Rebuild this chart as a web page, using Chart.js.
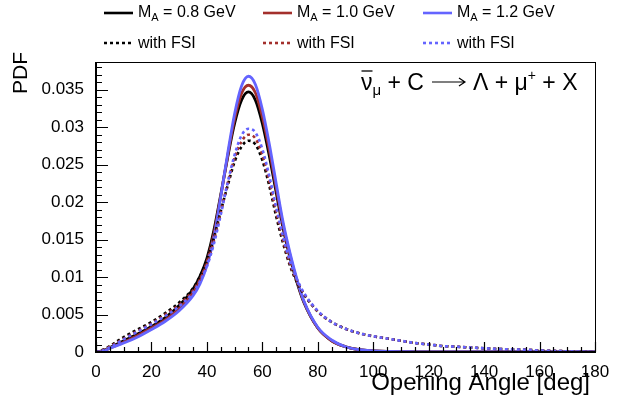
<!DOCTYPE html>
<html>
<head>
<meta charset="utf-8">
<script src="https://cdn.jsdelivr.net/npm/chart.js@4.4.1/dist/chart.umd.min.js"></script>
<style>
  html, body { margin: 0; padding: 0; background: #fff; overflow: hidden; }
  canvas { display: block; }
</style>
</head>
<body>
<canvas id="pdfChart" width="634" height="410"></canvas>
<script>
// opening angle (deg)
const angles = [0, 2.5, 5, 10, 15, 20, 25, 30, 35, 37.5, 40, 42.5, 45, 47.5, 50, 52.5, 55, 57.5, 60, 62.5,
  65, 67.5, 70, 72.5, 75, 80, 85, 90, 95, 100, 105, 110, 115, 120, 125, 130, 135, 140, 145, 150,
  155, 160, 165, 170, 175, 180];

const massLabels = ["M_A = 0.8 GeV", "M_A = 1.0 GeV", "M_A = 1.2 GeV"];
const fsiLabel = "with FSI";

// no FSI
const ma08 = [0, 0.0002, 0.0006, 0.0015, 0.0024, 0.0034, 0.0046, 0.0062, 0.0084, 0.0101, 0.0125, 0.0162, 0.0210, 0.0260, 0.0305, 0.0336,
  0.0347, 0.0336, 0.0305, 0.0262, 0.0213, 0.0165, 0.0126, 0.0093, 0.0066, 0.0032, 0.0015, 0.0007, 0.0003, 0.00015, 0.00007, 0.00004,
  0.00003, 0.00002, 0.00001, 0, 0, 0, 0, 0, 0, 0, 0, 0, 0, 0];
const ma10 = [0, 0.00015, 0.0005, 0.0013, 0.0022, 0.0032, 0.0043, 0.0058, 0.0079, 0.0096, 0.0120, 0.0157, 0.0208, 0.0262, 0.0311, 0.0345,
  0.0356, 0.0346, 0.0314, 0.0270, 0.0219, 0.0169, 0.0129, 0.0095, 0.0067, 0.0032, 0.0015, 0.0007, 0.0003, 0.00015, 0.00007, 0.00004,
  0.00003, 0.00002, 0.00001, 0, 0, 0, 0, 0, 0, 0, 0, 0, 0, 0];
const ma12 = [0, 0.0001, 0.0005, 0.0012, 0.0020, 0.0030, 0.0041, 0.0055, 0.0075, 0.0091, 0.0115, 0.0152, 0.0207, 0.0265, 0.0318, 0.0355,
  0.0368, 0.0357, 0.0324, 0.0278, 0.0225, 0.0173, 0.0132, 0.0097, 0.0068, 0.0033, 0.0016, 0.0007, 0.0003, 0.00015, 0.00008, 0.00004,
  0.00003, 0.00002, 0.00001, 0, 0, 0, 0, 0, 0, 0, 0, 0, 0, 0];

// with FSI
const ma08fsi = [0, 0.0003, 0.0008, 0.0020, 0.0030, 0.0040, 0.0052, 0.0066, 0.0085, 0.0101, 0.0122, 0.0152, 0.0188, 0.0222, 0.0254, 0.0274,
  0.0282, 0.0277, 0.0256, 0.0222, 0.0181, 0.0145, 0.0115, 0.0093, 0.0077, 0.0054, 0.0040, 0.0031, 0.0025, 0.0021, 0.0018, 0.0015,
  0.0012, 0.0010, 0.0008, 0.0007, 0.0006, 0.0005, 0.0004, 0.00035, 0.0003, 0.0002, 0.00015, 0.0001, 0.00005, 0];
const ma10fsi = [0, 0.00025, 0.0007, 0.0018, 0.0028, 0.0038, 0.0050, 0.0063, 0.0082, 0.0097, 0.0118, 0.0148, 0.0186, 0.0225, 0.0259, 0.0281,
  0.0290, 0.0285, 0.0263, 0.0228, 0.0187, 0.0149, 0.0117, 0.0095, 0.0078, 0.0054, 0.0040, 0.0031, 0.0025, 0.0021, 0.0018, 0.0015,
  0.0012, 0.0010, 0.0008, 0.0007, 0.0006, 0.0005, 0.0004, 0.00035, 0.0003, 0.0002, 0.00015, 0.0001, 0.00005, 0];
const ma12fsi = [0, 0.0002, 0.0006, 0.0017, 0.0027, 0.0037, 0.0048, 0.0061, 0.0079, 0.0094, 0.0114, 0.0144, 0.0183, 0.0226, 0.0263, 0.0289,
  0.0298, 0.0293, 0.0271, 0.0235, 0.0193, 0.0154, 0.0121, 0.0097, 0.0079, 0.0055, 0.0040, 0.0031, 0.0025, 0.0021, 0.0018, 0.0015,
  0.0012, 0.0010, 0.0008, 0.0007, 0.0006, 0.0005, 0.0004, 0.00035, 0.0003, 0.0002, 0.00015, 0.0001, 0.00005, 0];

const xTicks = [0, 20, 40, 60, 80, 100, 120, 140, 160, 180];
const yTicks = [0, 0.005, 0.01, 0.015, 0.02, 0.025, 0.03, 0.035];

const BLACK = "#000000";
const RED = "#a32f2c";
const BLUE = "#6464ff";
const FONT = "'Liberation Sans', Arial, sans-serif";

const toPoints = (vals) => angles.map((a, i) => ({ x: a, y: vals[i] }));

function line(label, vals, color, dotted, order) {
  return {
    label: label,
    data: toPoints(vals),
    borderColor: color,
    backgroundColor: color,
    borderWidth: dotted ? 2.6 : 2.8,
    borderDash: dotted ? [3, 3] : [],
    pointRadius: 0,
    fill: false,
    cubicInterpolationMode: "monotone",
    order: order,
  };
}

const datasets = [
  line(massLabels[0], ma08, BLACK, false, 5),
  line(massLabels[1], ma10, RED, false, 4),
  line(massLabels[2], ma12, BLUE, false, 3),
  line(fsiLabel, ma08fsi, BLACK, true, 2),
  line(fsiLabel, ma10fsi, RED, true, 1),
  line(fsiLabel, ma12fsi, BLUE, true, 0),
];

// draw "M" with subscript "A" then the rest
function drawMassLabel(ctx, text, x, y) {
  const rest = text.replace("M_A", "");
  ctx.font = "16px " + FONT;
  ctx.fillText("M", x, y);
  let w = ctx.measureText("M").width;
  ctx.font = "11px " + FONT;
  ctx.fillText("A", x + w, y + 5);
  w += ctx.measureText("A").width;
  ctx.font = "16px " + FONT;
  ctx.fillText(rest, x + w, y);
}

const decorations = {
  id: "decorations",
  afterDraw(chart) {
    const ctx = chart.ctx;
    const area = chart.chartArea;
    const xs = chart.scales.x;
    const ys = chart.scales.y;
    ctx.save();

    // frame
    ctx.strokeStyle = "#000";
    ctx.lineWidth = 1;
    ctx.strokeRect(area.left + 0.5, area.top + 0.5, area.right - area.left, area.bottom - area.top);
    ctx.lineWidth = 2;
    ctx.beginPath();
    ctx.moveTo(area.left, area.top);
    ctx.lineTo(area.left, area.bottom);
    ctx.lineTo(area.right, area.bottom);
    ctx.stroke();

    // inward ticks
    ctx.lineWidth = 1.2;
    ctx.beginPath();
    for (let v = 0; v <= 180; v += 5) {
      const px = Math.round(xs.getPixelForValue(v)) + 0.5;
      const len = v % 20 === 0 ? 10 : 5;
      ctx.moveTo(px, area.bottom);
      ctx.lineTo(px, area.bottom - len);
    }
    for (let k = 0; k * 0.001 <= ys.max; k++) {
      const py = Math.round(ys.getPixelForValue(k * 0.001)) + 0.5;
      const len = k % 5 === 0 ? 12 : 6;
      ctx.moveTo(area.left, py);
      ctx.lineTo(area.left + len, py);
    }
    ctx.stroke();

    // axis titles (closing bracket drawn on its own)
    ctx.fillStyle = "#000";
    ctx.font = "24px " + FONT;
    ctx.textAlign = "left";
    ctx.textBaseline = "alphabetic";
    const xTitle = "Opening Angle [deg";
    const bracketW = ctx.measureText("]").width;
    const titleW = ctx.measureText(xTitle).width;
    const tx = 590 - bracketW - titleW;
    ctx.fillText(xTitle, tx, 390);
    ctx.fillText("]", tx + titleW, 390);

    ctx.save();
    ctx.translate(27, 52);
    ctx.rotate(-Math.PI / 2);
    ctx.font = "21px " + FONT;
    ctx.textAlign = "right";
    ctx.fillText("PDF", 0, 0);
    ctx.restore();

    // legend
    ctx.textAlign = "left";
    ctx.textBaseline = "middle";
    const cols = [104, 263, 423];
    const rows = [13, 43];
    chart.data.datasets.forEach((ds, i) => {
      const col = cols[i % 3];
      const row = rows[Math.floor(i / 3)];
      ctx.strokeStyle = ds.borderColor;
      ctx.lineWidth = 2.6;
      ctx.setLineDash(ds.borderDash);
      ctx.beginPath();
      ctx.moveTo(col, row);
      ctx.lineTo(col + 29, row);
      ctx.stroke();
      ctx.setLineDash([]);
      ctx.fillStyle = "#000";
      if (ds.label.startsWith("M_A")) {
        drawMassLabel(ctx, ds.label, col + 34, row);
      } else {
        ctx.font = "16px " + FONT;
        ctx.fillText(ds.label, col + 34, row + 1);
      }
    });

    // reaction label
    ctx.textBaseline = "alphabetic";
    ctx.fillStyle = "#000";
    ctx.strokeStyle = "#000";
    let x = 361;
    const y = 90;
    ctx.font = "23px " + FONT;
    ctx.fillText("\u03bd", x, y);
    const nuW = ctx.measureText("\u03bd").width;
    ctx.lineWidth = 1.3;
    ctx.beginPath();
    ctx.moveTo(x + 0.5, y - 19);
    ctx.lineTo(x + nuW, y - 19);
    ctx.stroke();
    x += nuW;
    ctx.font = "15px " + FONT;
    ctx.fillText("\u03bc", x, y + 5);
    x += ctx.measureText("\u03bc").width;
    ctx.font = "23px " + FONT;
    const left = " + C";
    ctx.fillText(left, x, y);
    x += ctx.measureText(left).width + 8;
    // long arrow
    const ay = y - 8;
    ctx.lineWidth = 1.2;
    ctx.beginPath();
    ctx.moveTo(x, ay);
    ctx.lineTo(x + 33, ay);
    ctx.moveTo(x + 27, ay - 4);
    ctx.lineTo(x + 33, ay);
    ctx.lineTo(x + 27, ay + 4);
    ctx.stroke();
    x += 41;
    const mid = "\u039b + \u03bc";
    ctx.fillText(mid, x, y);
    x += ctx.measureText(mid).width;
    ctx.font = "14px " + FONT;
    ctx.fillText("+", x, y - 10);
    x += ctx.measureText("+").width;
    ctx.font = "23px " + FONT;
    ctx.fillText(" + X", x, y);

    ctx.restore();
  },
};

new Chart(document.getElementById("pdfChart"), {
  type: "line",
  data: { datasets: datasets },
  options: {
    responsive: false,
    animation: false,
    layout: { padding: { top: 62, right: 39, left: 0, bottom: 0 } },
    plugins: {
      legend: { display: false },
      tooltip: { enabled: false },
    },
    scales: {
      x: {
        type: "linear",
        min: 0,
        max: 180,
        afterFit: (s) => { s.height = 58; },
        afterBuildTicks: (s) => { s.ticks = xTicks.map((v) => ({ value: v })); },
        grid: { display: false },
        border: { display: false },
        ticks: {
          color: "#000",
          font: { family: FONT, size: 17 },
          padding: 2,
          maxRotation: 0,
          callback: (v) => String(v),
        },
      },
      y: {
        type: "linear",
        min: 0,
        max: 0.0387,
        afterFit: (s) => { s.width = 96; },
        afterBuildTicks: (s) => { s.ticks = yTicks.map((v) => ({ value: v })); },
        grid: { display: false },
        border: { display: false },
        ticks: {
          color: "#000",
          font: { family: FONT, size: 17 },
          padding: 4,
          callback: (v) => String(+v.toFixed(3)),
        },
      },
    },
  },
  plugins: [decorations],
});
</script>
</body>
</html>
